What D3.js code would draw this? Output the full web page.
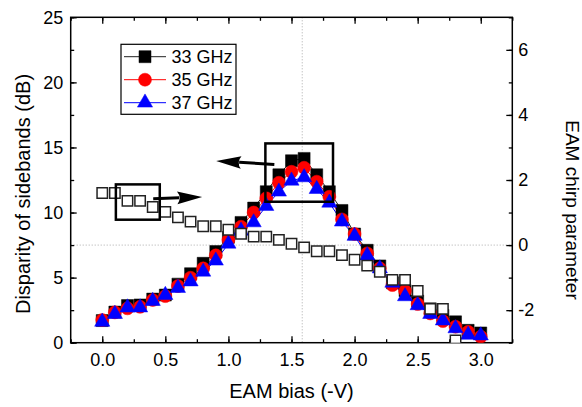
<!DOCTYPE html>
<html>
<head>
<meta charset="utf-8">
<script src="https://cdn.jsdelivr.net/npm/d3@7"></script>
<style>
  html, body { margin: 0; padding: 0; background: #fff; }
  svg { display: block; font-family: "Liberation Sans", Arial, sans-serif; }
</style>
</head>
<body>
<svg id="chart" width="582" height="407"></svg>
<script>
// ---- data ----
const bias = [0.0,0.1,0.2,0.3,0.4,0.5,0.6,0.7,0.8,0.9,1.0,1.1,1.2,1.3,1.4,1.5,1.6,1.7,1.8,1.9,2.0,2.1,2.2,2.3,2.4,2.5,2.6,2.7,2.8,2.9,3.0];
const ghz33 = [1.7,2.35,2.85,2.9,3.35,3.66,4.5,5.3,6.1,7.0,8.1,9.24,10.34,11.6,12.9,13.98,14.16,12.9,11.6,10.16,8.35,7.1,5.9,4.6,4.0,3.2,2.6,2.1,1.6,0.95,0.75];
const ghz35 = [1.74,2.33,2.64,2.76,3.28,3.58,4.35,4.99,5.71,6.71,7.89,8.91,10.0,11.09,12.29,13.13,13.44,12.37,11.21,9.47,8.35,6.86,5.71,4.43,3.97,2.97,2.25,1.66,1.23,0.84,0.46];
const ghz37 = [1.6,2.2,2.7,2.7,3.2,3.66,4.2,4.7,5.45,6.3,7.6,8.6,9.24,10.5,11.6,12.44,12.7,11.8,10.75,9.3,8.2,6.7,5.7,4.6,3.56,2.87,2.2,1.7,1.1,0.6,0.55];
const chirpBias = [0.0,0.1,0.2,0.3,0.4,0.5,0.6,0.7,0.8,0.9,1.0,1.1,1.2,1.3,1.4,1.5,1.6,1.7,1.8,1.9,2.0,2.1,2.2,2.3,2.4,2.5,2.6,2.7,2.8];
const chirp = [1.6,1.6,1.36,1.36,1.17,1.02,0.85,0.72,0.58,0.58,0.47,0.35,0.26,0.26,0.16,0.04,-0.07,-0.19,-0.19,-0.31,-0.45,-0.63,-0.82,-1.07,-1.07,-1.41,-1.96,-1.96,-2.93];
const seriesNames = ["33 GHz","35 GHz","37 GHz"];
const xTicks = [0.0,0.5,1.0,1.5,2.0,2.5,3.0];
const yLeftTicks = [0,5,10,15,20,25];
const yRightTicks = [-2,0,2,4,6];
// annotation boxes / arrows in data units
const boxPeak = {x0:1.293, x1:1.829, y0:10.83, y1:15.31};        // left axis
const boxChirp = {x0:0.108, x1:0.456, y0:0.78, y1:1.865};        // right axis
const arrowLeft = {x0:1.364, y0:13.7, x1:0.903, y1:13.96};       // left axis
const arrowRight = {x0:0.404, y0:1.425, x1:0.792, y1:1.477};     // right axis
const refX = 1.585, refYRight = 0;

// ---- layout ----
const L = 70.7, R = 512.3, T = 17.3, B = 342.7;
const svg = d3.select("#chart");
const x = d3.scaleLinear().domain([-0.25, 3.25]).range([L, R]);
const yL = d3.scaleLinear().domain([0, 25]).range([B, T]);
const yR = d3.scaleLinear().domain([-3, 7]).range([B, T]);
const hyphenInt = d => String(d);   // ASCII hyphen minus like the original

svg.append("defs").append("clipPath").attr("id","clip")
  .append("rect").attr("x",L).attr("y",T).attr("width",R-L).attr("height",B-T);

// reference dotted lines
svg.append("line").attr("x1",L).attr("x2",R).attr("y1",yR(refYRight)).attr("y2",yR(refYRight))
  .attr("stroke","#aaa").attr("stroke-width",1).attr("stroke-dasharray","1,2");
svg.append("line").attr("x1",x(refX)).attr("x2",x(refX)).attr("y1",T).attr("y2",B)
  .attr("stroke","#aaa").attr("stroke-width",1).attr("stroke-dasharray","1,2");

// axes
function styleAxis(g){ g.select(".domain").remove(); g.selectAll("line").attr("stroke","#000").attr("stroke-width",1.3);
  g.selectAll("text").attr("font-size","18px").attr("fill","#000").attr("font-family","'Liberation Sans', Arial, sans-serif"); }
const xMinor = d3.range(-0.25, 3.2501, 0.25);
svg.append("g").attr("transform",`translate(0,${B})`)
  .call(d3.axisBottom(x).tickValues(xMinor).tickSize(-3.5).tickFormat("")).call(styleAxis);
svg.append("g").attr("transform",`translate(0,${B})`)
  .call(d3.axisBottom(x).tickValues(xTicks).tickSize(-6.5).tickPadding(10.5).tickFormat(d => d.toFixed(1))).call(styleAxis);
svg.append("g").attr("transform",`translate(0,${T})`)
  .call(d3.axisTop(x).tickValues(xMinor).tickSize(-3.5).tickFormat("")).call(styleAxis);
svg.append("g").attr("transform",`translate(0,${T})`)
  .call(d3.axisTop(x).tickValues(xTicks).tickSize(-6.5).tickFormat("")).call(styleAxis);
svg.append("g").attr("transform",`translate(${L},0)`)
  .call(d3.axisLeft(yL).tickValues(d3.range(0,25.01,2.5)).tickSize(-3.5).tickFormat("")).call(styleAxis);
svg.append("g").attr("transform",`translate(${L},0)`)
  .call(d3.axisLeft(yL).tickValues(yLeftTicks).tickSize(-6).tickPadding(7.4).tickFormat(hyphenInt)).call(styleAxis);
svg.append("g").attr("transform",`translate(${R},0)`)
  .call(d3.axisRight(yR).tickValues(d3.range(-3,7.01,1)).tickSize(-3.5).tickFormat("")).call(styleAxis);
svg.append("g").attr("transform",`translate(${R},0)`)
  .call(d3.axisRight(yR).tickValues(yRightTicks).tickSize(-6).tickPadding(6).tickFormat(hyphenInt)).call(styleAxis);

// frame
svg.append("rect").attr("x",L).attr("y",T).attr("width",R-L).attr("height",B-T)
  .attr("fill","none").attr("stroke","#000").attr("stroke-width",1.5);

const plot = svg.append("g").attr("clip-path","url(#clip)");
const series = [
  {vals: ghz33, color:"#000", line:"#222", sym:d3.symbolSquare, size:144},
  {vals: ghz35, color:"#ff0000", line:"#ff0000", sym:d3.symbolCircle, size:133},
  {vals: ghz37, color:"#0000ff", line:"#0000ff", sym:d3.symbolTriangle, size:100}
];
const lineGen = d3.line().x((d,i)=>x(bias[i])).y(d=>yL(d));
series.forEach(s => {
  plot.append("path").attr("d", lineGen(s.vals)).attr("fill","none").attr("stroke",s.line).attr("stroke-width",1);
});
series.forEach(s => {
  plot.selectAll(null).data(s.vals).enter().append("path")
    .attr("d", d3.symbol().type(s.sym).size(s.size))
    .attr("transform",(d,i)=>`translate(${x(bias[i])},${yL(d)})`)
    .attr("fill",s.color).attr("stroke",s.color).attr("stroke-width",0.5);
});
// chirp open squares
plot.selectAll(null).data(chirp).enter().append("path")
  .attr("d", d3.symbol().type(d3.symbolSquare).size(108))
  .attr("transform",(d,i)=>`translate(${x(chirpBias[i])},${yR(d)})`)
  .attr("fill","#fff").attr("stroke","#222").attr("stroke-width",1.5);

// annotation boxes
svg.append("rect").attr("x",x(boxPeak.x0)).attr("y",yL(boxPeak.y1))
  .attr("width",x(boxPeak.x1)-x(boxPeak.x0)).attr("height",yL(boxPeak.y0)-yL(boxPeak.y1))
  .attr("fill","none").attr("stroke","#000").attr("stroke-width",2.5);
svg.append("rect").attr("x",x(boxChirp.x0)).attr("y",yR(boxChirp.y1))
  .attr("width",x(boxChirp.x1)-x(boxChirp.x0)).attr("height",yR(boxChirp.y0)-yR(boxChirp.y1))
  .attr("fill","none").attr("stroke","#000").attr("stroke-width",2.5);

// arrows
function arrow(x0,y0,x1,y1){
  const dx=x1-x0, dy=y1-y0, len=Math.hypot(dx,dy), ux=dx/len, uy=dy/len;
  const hl=25, hw=6.3;
  const bx=x1-ux*hl, by=y1-uy*hl;
  svg.append("line").attr("x1",x0).attr("y1",y0).attr("x2",bx+ux*2).attr("y2",by+uy*2)
    .attr("stroke","#000").attr("stroke-width",3);
  svg.append("path").attr("d",`M${x1},${y1}L${bx-uy*hw},${by+ux*hw}Q${bx+ux*5},${by+uy*5} ${bx+uy*hw},${by-ux*hw}Z`)
    .attr("fill","#000");
}
arrow(x(arrowLeft.x0), yL(arrowLeft.y0), x(arrowLeft.x1), yL(arrowLeft.y1));
arrow(x(arrowRight.x0), yR(arrowRight.y0), x(arrowRight.x1), yR(arrowRight.y1));

// legend
const lg = svg.append("g");
lg.append("rect").attr("x",121).attr("y",44.3).attr("width",115).attr("height",70)
  .attr("fill","#fff").attr("stroke","#000").attr("stroke-width",1.2);
series.forEach((s,i) => {
  const yy = 56.7 + i*23;
  lg.append("line").attr("x1",124).attr("x2",166).attr("y1",yy).attr("y2",yy).attr("stroke",s.line).attr("stroke-width",1);
  lg.append("path").attr("d", d3.symbol().type(s.sym).size(s.size)).attr("transform",`translate(145,${yy})`)
    .attr("fill",s.color).attr("stroke",s.color).attr("stroke-width",0.5);
  lg.append("text").attr("x",171.5).attr("y",yy).attr("dy","0.35em").attr("font-size","18px").text(seriesNames[i]);
});

// axis titles
svg.append("text").attr("x",(L+R)/2).attr("y",398).attr("text-anchor","middle").attr("font-size","20px").text("EAM bias (-V)");
svg.append("text").attr("transform","translate(29.5,194) rotate(-90)").attr("text-anchor","middle").attr("font-size","20px").text("Disparity of sidebands (dB)");
svg.append("text").attr("transform","translate(565.5,210) rotate(90)").attr("text-anchor","middle").attr("font-size","19px").text("EAM chirp parameter");
</script>
</body>
</html>
